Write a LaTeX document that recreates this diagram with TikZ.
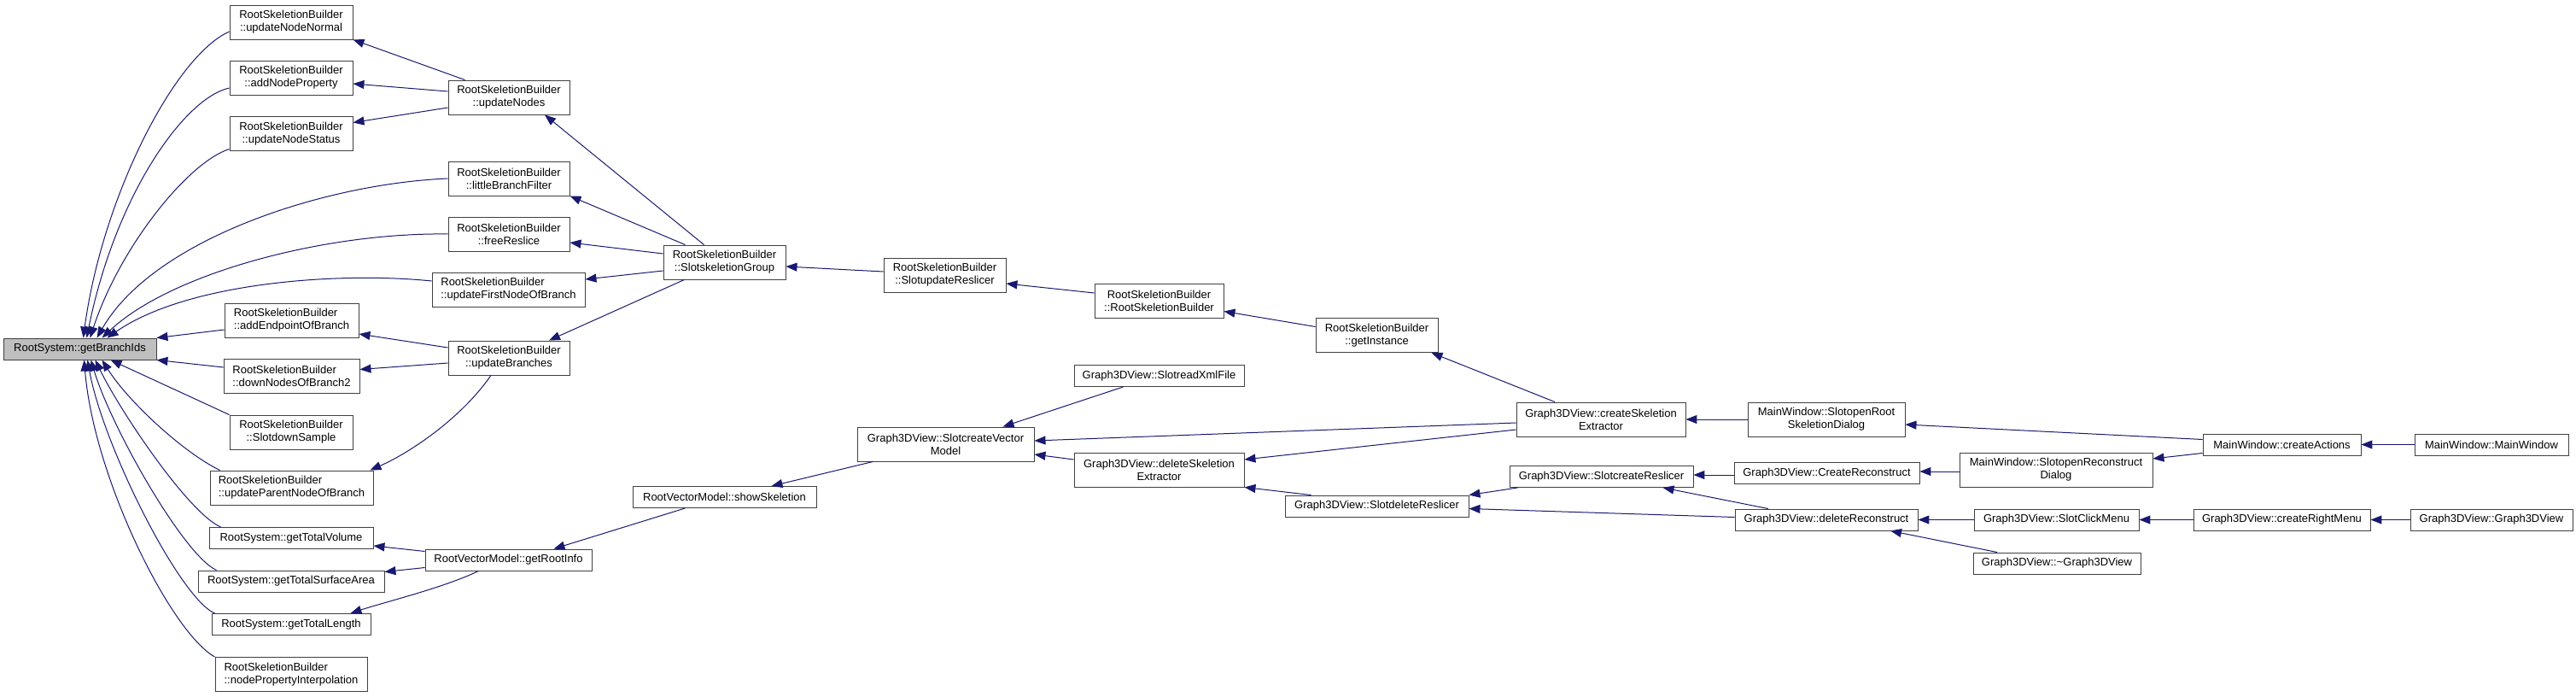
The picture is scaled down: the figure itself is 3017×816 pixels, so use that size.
\documentclass[tikz,border=0pt]{standalone}
\usepackage{fontspec}
\setmainfont{Liberation Sans}
\usepackage{tikz}
\usetikzlibrary{arrows.meta}
\definecolor{okLaci}{HTML}{191970}
\definecolor{kutuKenar}{HTML}{404040}
\definecolor{kokGri}{HTML}{BFBFBF}

\begin{document}
\begin{tikzpicture}[x=1pt, y=-1pt, >={Triangle[length=13pt,width=10pt]},
  every node/.style={font=\fontsize{13}{15}\selectfont},
  fn/.style={draw=kutuKenar, line width=0.9pt, fill=white, align=center, inner sep=2pt, minimum height=40pt},
  fnTek/.style={fn, minimum height=25pt},
  edge/.style={->, draw=okLaci, line width=1pt}]
\useasboundingbox (0,0) rectangle (3017,816);
% column 0
\node[fnTek,fill=kokGri,minimum width=179pt] (gb) at (93.5,408.5) {RootSystem::getBranchIds};
% column 1
\node[fn,minimum width=144pt] (unn) at (341,26) {RootSkeletionBuilder\\::updateNodeNormal};
\node[fn,minimum width=144pt] (anp) at (341,91) {RootSkeletionBuilder\\::addNodeProperty};
\node[fn,minimum width=144pt] (uns) at (341,156.5) {RootSkeletionBuilder\\::updateNodeStatus};
\node[fn,align=left,minimum width=157pt] (aeb) at (341.5,375) {RootSkeletionBuilder\\::addEndpointOfBranch};
\node[fn,align=left,minimum width=159pt] (dnb) at (341.5,440.5) {RootSkeletionBuilder\\::downNodesOfBranch2};
\node[fn,minimum width=144pt] (sds) at (341,506) {RootSkeletionBuilder\\::SlotdownSample};
\node[fn,align=left,minimum width=191pt] (upn) at (341.5,571) {RootSkeletionBuilder\\::updateParentNodeOfBranch};
\node[fnTek,minimum width=192pt] (gtv) at (341,630) {RootSystem::getTotalVolume};
\node[fnTek,minimum width=218pt] (gtsa) at (341,680.5) {RootSystem::getTotalSurfaceArea};
\node[fnTek,minimum width=186pt] (gtl) at (341,731) {RootSystem::getTotalLength};
\node[fn,align=left,minimum width=178pt] (npi) at (341,789.5) {RootSkeletionBuilder\\::nodePropertyInterpolation};
% column 2
\node[fn,minimum width=142pt] (un) at (596,114) {RootSkeletionBuilder\\::updateNodes};
\node[fn,minimum width=142pt] (lbf) at (596,209) {RootSkeletionBuilder\\::littleBranchFilter};
\node[fn,minimum width=142pt] (fr) at (596,274) {RootSkeletionBuilder\\::freeReslice};
\node[fn,align=left,minimum width=179pt] (ufn) at (595.5,339) {RootSkeletionBuilder\\::updateFirstNodeOfBranch};
\node[fn,minimum width=142pt] (ub) at (596,419) {RootSkeletionBuilder\\::updateBranches};
\node[fnTek,minimum width=195pt] (gri) at (595.5,655.5) {RootVectorModel::getRootInfo};
% column 3
\node[fn,minimum width=143pt] (ssg) at (848.5,307) {RootSkeletionBuilder\\::SlotskeletionGroup};
\node[fnTek,minimum width=215pt] (ss) at (848.5,582) {RootVectorModel::showSkeletion};
% column 4
\node[fn,minimum width=143pt] (sur) at (1106.5,322) {RootSkeletionBuilder\\::SlotupdateReslicer};
\node[fn,minimum width=207pt] (scvm) at (1107.5,520) {Graph3DView::SlotcreateVector\\Model};
% column 5
\node[fn,minimum width=151pt] (rsb) at (1357.5,352.5) {RootSkeletionBuilder\\::RootSkeletionBuilder};
\node[fnTek,minimum width=199pt] (srx) at (1357.5,440) {Graph3DView::SlotreadXmlFile};
\node[fn,minimum width=199pt] (dse) at (1357.5,550) {Graph3DView::deleteSkeletion\\Extractor};
% column 6
\node[fn,minimum width=143pt] (gi) at (1612.5,392.5) {RootSkeletionBuilder\\::getInstance};
\node[fnTek,minimum width=215pt] (sdr) at (1612.5,592.5) {Graph3DView::SlotdeleteReslicer};
% column 7
\node[fn,minimum width=198pt] (cse) at (1875,491) {Graph3DView::createSkeletion\\Extractor};
\node[fnTek,minimum width=215pt] (scr) at (1875.5,558) {Graph3DView::SlotcreateReslicer};
% column 8
\node[fn,minimum width=184pt] (sord) at (2139,491) {MainWindow::SlotopenRoot\\SkeletionDialog};
\node[fnTek,minimum width=217pt] (cr) at (2139.5,554) {Graph3DView::CreateReconstruct};
\node[fnTek,minimum width=214pt] (dr) at (2139,608.5) {Graph3DView::deleteReconstruct};
% column 9
\node[fn,minimum width=226pt] (sorc) at (2408,550) {MainWindow::SlotopenReconstruct\\Dialog};
\node[fnTek,minimum width=193pt] (scm) at (2408.5,608.5) {Graph3DView::SlotClickMenu};
\node[fnTek,minimum width=196pt] (dtor) at (2409,659.5) {Graph3DView::\textasciitilde Graph3DView};
% column 10
\node[fnTek,minimum width=185pt] (ca) at (2672.5,520.5) {MainWindow::createActions};
\node[fnTek,minimum width=207pt] (crm) at (2672.5,608.5) {Graph3DView::createRightMenu};
% column 11
\node[fnTek,minimum width=180pt] (mw) at (2918,520.5) {MainWindow::MainWindow};
\node[fnTek,minimum width=190pt] (gg) at (2918,608.5) {Graph3DView::Graph3DView};

% callers of getBranchIds, top side
\draw[edge] ([yshift=-11pt]unn.west) .. controls (205,65) and (120,230) .. ([xshift=4pt]gb.north);
\draw[edge] ([yshift=-12pt]anp.west) .. controls (215,115) and (135,230) .. ([xshift=8pt]gb.north);
\draw[edge] ([yshift=-18pt]uns.west) .. controls (220,190) and (140,290) .. ([xshift=12pt]gb.north);
\draw[edge] (lbf.west) .. controls (380,215) and (180,280) .. ([xshift=20pt]gb.north);
\draw[edge] (fr.west) .. controls (380,272) and (200,320) .. ([xshift=26pt]gb.north);
\draw[edge] ([yshift=10pt]ufn.west) .. controls (400,318) and (220,330) .. ([xshift=32pt]gb.north);
\draw[edge] ([yshift=-11pt]aeb.west) -- (gb.north east);
% callers of getBranchIds, bottom side
\draw[edge] ([yshift=10.5pt]dnb.west) -- (gb.south east);
\draw[edge] (sds.north west) -- ([xshift=36pt]gb.south);
\draw[edge] ([xshift=12pt]upn.north west) .. controls (215,530) and (150,470) .. ([xshift=26pt]gb.south);
\draw[edge] ([xshift=14pt]gtv.north west) .. controls (220,600) and (140,480) .. ([xshift=18pt]gb.south);
\draw[edge] ([xshift=22pt]gtsa.north west) .. controls (215,650) and (130,500) .. ([xshift=13pt]gb.south);
\draw[edge] ([xshift=4pt]gtl.north west) .. controls (210,700) and (120,520) .. ([xshift=9pt]gb.south);
\draw[edge] (npi.north west) .. controls (200,740) and (110,560) .. ([xshift=5pt]gb.south);
% column 2 to column 1
\draw[edge] ([xshift=20pt]un.north west) -- (unn.south east);
\draw[edge] ([yshift=7pt]un.west) -- ([yshift=-7pt]anp.east);
\draw[edge] ([yshift=-12pt]un.west) -- ([yshift=13pt]uns.east);
\draw[edge] ([yshift=12pt]ub.west) -- ([yshift=-16pt]aeb.east);
\draw[edge] ([yshift=-6pt]ub.west) -- ([yshift=8pt]dnb.east);
\draw[edge] ([xshift=-21pt]ub.south) .. controls (540,490) and (480,530) .. ([xshift=-4pt]upn.north east);
\draw[edge] ([yshift=10pt]gri.west) -- ([yshift=-9pt]gtv.east);
\draw[edge] ([yshift=-9pt]gri.west) -- ([yshift=11pt]gtsa.east);
\draw[edge] ([xshift=-35pt]gri.south) .. controls (520,688) and (450,705) .. ([xshift=-24pt]gtl.north east);
% column 3 to column 2
\draw[edge] ([xshift=-24pt]ssg.north) -- ([xshift=42pt]un.south);
\draw[edge] ([xshift=-46pt]ssg.north) -- (lbf.south east);
\draw[edge] ([yshift=10pt]ssg.west) -- ([yshift=-10pt]fr.east);
\draw[edge] ([yshift=-10pt]ssg.west) -- ([yshift=12pt]ufn.east);
\draw[edge] ([xshift=-47pt]ssg.south) -- ([xshift=47pt]ub.north);
\draw[edge] ([xshift=-46pt]ss.south) -- ([xshift=53pt]gri.north);
% column 4 to column 3
\draw[edge] ([yshift=4pt]sur.west) -- ([yshift=-5pt]ssg.east);
\draw[edge] ([xshift=-85pt]scvm.south) -- ([xshift=55pt]ss.north);
% column 5 to column 4
\draw[edge] ([yshift=9.5pt]rsb.west) -- ([yshift=-10pt]sur.east);
\draw[edge] ([xshift=-42pt]srx.south) -- ([xshift=67pt]scvm.north);
\draw[edge] ([yshift=12pt]dse.west) -- ([yshift=-12pt]scvm.east);
% column 6 to column 5
\draw[edge] ([yshift=10pt]gi.west) -- ([yshift=-12pt]rsb.east);
\draw[edge] ([xshift=-77pt]sdr.north) -- (dse.south east);
% column 7
\draw[edge] ([xshift=-54pt]cse.north) -- ([xshift=-8pt]gi.south east);
\draw[edge] ([yshift=-4pt]cse.west) -- ([yshift=4pt]scvm.east);
\draw[edge] ([yshift=-12pt]cse.west) -- ([yshift=12pt]dse.east);
\draw[edge] ([xshift=10pt]scr.south west) -- (sdr.north east);
% column 8
\draw[edge] (sord.west) -- (cse.east);
\draw[edge] ([yshift=-2pt]cr.west) -- ([yshift=2pt]scr.east);
\draw[edge] ([yshift=3pt]dr.west) -- ([yshift=-3pt]sdr.east);
\draw[edge] ([xshift=-68pt]dr.north) -- ([xshift=72pt]scr.south);
% column 9
\draw[edge] ([yshift=-2pt]sorc.west) -- ([yshift=2pt]cr.east);
\draw[edge] (scm.west) -- (dr.east);
\draw[edge] ([xshift=-70pt]dtor.north) -- ([xshift=75pt]dr.south);
% column 10
\draw[edge] ([yshift=6pt]ca.west) -- ([yshift=-6pt]sord.east);
\draw[edge] ([yshift=-10pt]ca.west) -- ([yshift=13pt]sorc.east);
\draw[edge] (crm.west) -- (scm.east);
% column 11
\draw[edge] (mw.west) -- (ca.east);
\draw[edge] (gg.west) -- (crm.east);
\end{tikzpicture}
\end{document}
